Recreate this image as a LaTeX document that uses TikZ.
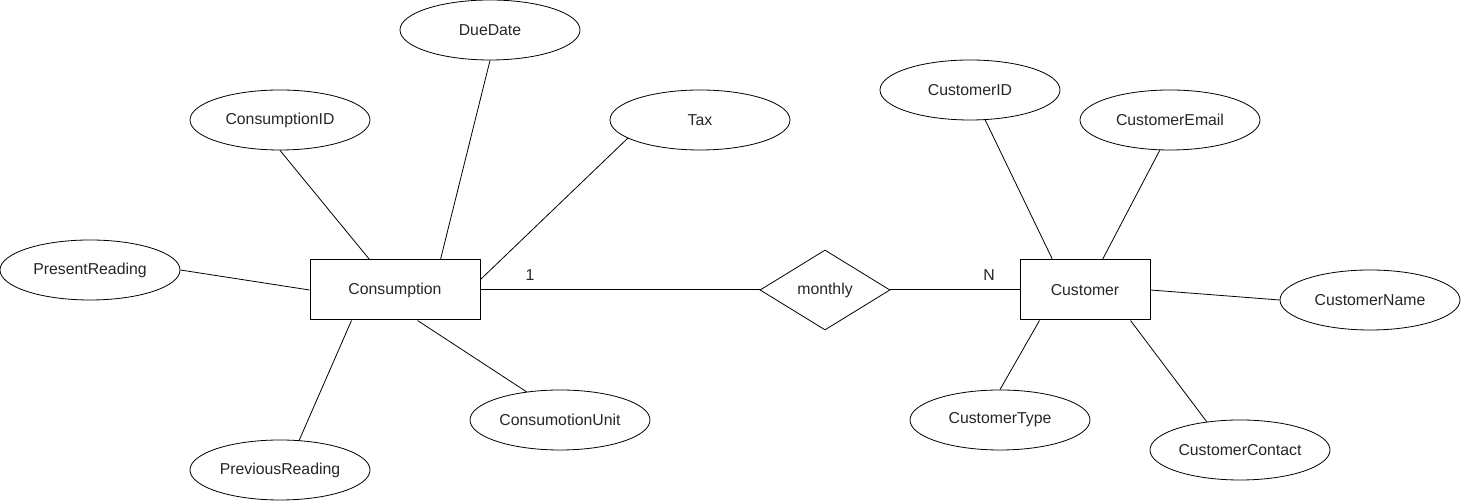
\documentclass[tikz,border=0pt]{standalone}
\usepackage{fontspec}
\setmainfont{Liberation Sans}
\usetikzlibrary{shapes.geometric,calc}
\begin{document}
\begin{tikzpicture}[x=1pt,y=1pt,
  every node/.style={font=\fontsize{15.8}{19}\selectfont, text=black!85},
  attr/.style={ellipse, draw=black, line width=0.8pt, minimum width=180pt, minimum height=60pt, inner sep=0pt},
  entity/.style={rectangle, draw=black, line width=1pt, minimum height=60pt, inner sep=0pt},
  rel/.style={diamond, draw=black, line width=0.8pt, minimum width=130pt, minimum height=80pt, aspect=1.625, inner sep=0pt},
  conn/.style={draw=black, line width=0.8pt},
  link/.style={draw=black, line width=1pt}]
\useasboundingbox (0,0) rectangle (1462,502);

% entities and relationship
\node[entity, minimum width=170pt] (cons) at (395,212) {Consumption};
\node[entity, minimum width=130pt] (cust) at (1085,212) {Customer};
\node[rel] (month) at (825,212) {monthly};

% attributes of Consumption
\node[attr] (pr) at (90,232) {PresentReading};
\node[attr] (cid) at (280,382) {ConsumptionID};
\node[attr] (dd) at (490,472) {DueDate};
\node[attr] (tax) at (700,382) {Tax};
\node[attr] (prev) at (280,32) {PreviousReading};
\node[attr] (cu) at (560,82) {ConsumotionUnit};

% attributes of Customer
\node[attr] (custid) at (970,412) {CustomerID};
\node[attr] (cemail) at (1170,382) {CustomerEmail};
\node[attr] (cname) at (1370,202) {CustomerName};
\node[attr] (ctype) at (1000,82) {CustomerType};
\node[attr] (ccont) at (1240,52) {CustomerContact};

% connectors Consumption
\draw[conn] (cid.south) -- ($(cons.north west)+(60,0)$);
\draw[conn] (dd.south) -- ($(cons.north west)+(131,0)$);
\draw[conn] ($(tax.center)+(-72,-18)$) -- ($(cons.north east)+(0,-20)$);
\draw[conn] (pr.east) -- (cons.west);
\draw[conn] ($(prev.center)+(19,29.3)$) -- ($(cons.south west)+(42,0)$);
\draw[conn] ($(cu.center)+(-33,27.9)$) -- ($(cons.south west)+(108,0)$);

% relationship links
\draw[link] (cons.east) -- (month.west);
\draw[link] (month.east) -- (cust.west);
\node (one) at (530,227) {1};
\node (n) at (989,227) {N};

% connectors Customer
\draw[conn] ($(custid.center)+(15,-29.6)$) -- ($(cust.north west)+(33,0)$);
\draw[conn] ($(cemail.center)+(-10,-29.8)$) -- ($(cust.north west)+(83,0)$);
\draw[conn] (cname.west) -- (cust.east);
\draw[conn] (ctype.north) -- ($(cust.south west)+(20,0)$);
\draw[conn] ($(ccont.center)+(-33,27.9)$) -- ($(cust.south west)+(111,0)$);
\end{tikzpicture}
\end{document}
